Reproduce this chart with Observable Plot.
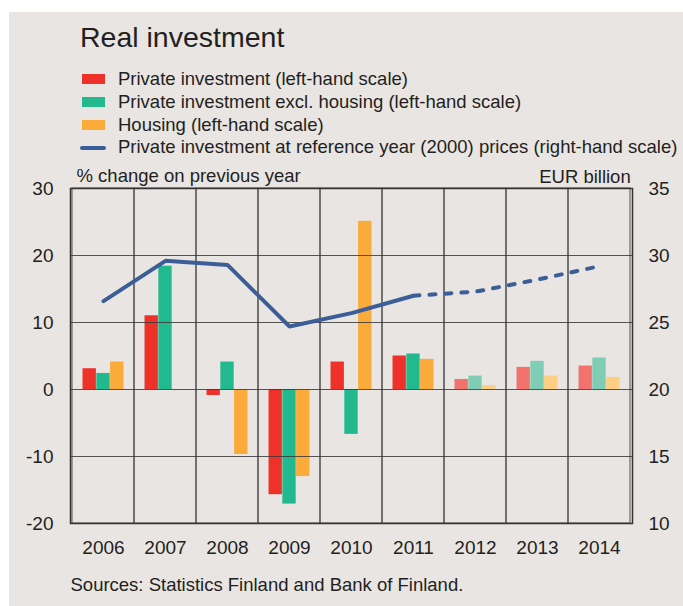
<!DOCTYPE html>
<html>
<head>
<meta charset="utf-8">
<script src="https://cdn.jsdelivr.net/npm/d3@7"></script>
<script src="https://cdn.jsdelivr.net/npm/@observablehq/plot@0.6"></script>
<style>
  html, body { margin: 0; padding: 0; background: #ffffff; width: 683px; height: 606px; overflow: hidden; }
  body { position: relative; font-family: "Liberation Sans", Arial, sans-serif; color: #231f20; }
  #panel { position: absolute; left: 9px; top: 12px; width: 674px; height: 594px; background: #e9e5e2; }
  .t { position: absolute; line-height: 1; white-space: nowrap; }
  .sw { position: absolute; }
  #chart { position: absolute; left: 0; top: 160px; }
</style>
</head>
<body>
<div id="panel"></div>
<div class="t" style="left:80px; top:22.6px; font-size:28.5px;">Real investment</div>
<div id="legend"></div>
<div class="t" style="left:76.5px; top:167px; font-size:18.5px;">% change on previous year</div>
<div class="t" style="right:52.3px; top:168.3px; font-size:18.5px;">EUR billion</div>
<div id="chart"></div>
<div class="t" style="left:70.5px; top:576px; font-size:18.5px;">Sources: Statistics Finland and Bank of Finland.</div>
<script>
// ---- data ----
const years = [2006, 2007, 2008, 2009, 2010, 2011, 2012, 2013, 2014];
const privateInvestment = [3.1, 11.0, -0.9, -15.7, 4.1, 5.0, 1.5, 3.3, 3.5];
const exclHousing = [2.4, 18.4, 4.1, -17.1, -6.7, 5.3, 2.0, 4.2, 4.7];
const housing = [4.1, 0.0, -9.7, -13.0, 25.1, 4.5, 0.6, 2.0, 1.8];
const levelEURbn = [26.6, 29.6, 29.3, 24.7, 25.7, 27.0, 27.3, 28.2, 29.2];
const firstForecastYear = 2012;
const leftTicks = [-20, -10, 0, 10, 20, 30];
const legendLabels = [
  "Private investment (left-hand scale)",
  "Private investment excl. housing (left-hand scale)",
  "Housing (left-hand scale)",
  "Private investment at reference year (2000) prices (right-hand scale)"
];

const colors = {
  red: ["#ee3229", "#f2736d"],
  green: ["#22b98f", "#7ecdb4"],
  orange: ["#fbab3a", "#fdcf82"],
  line: "#3b5e98"
};

// legend
const legend = document.getElementById("legend");
const rowCenters = [79, 102, 125, 147.5];
legendLabels.forEach((lab, i) => {
  const c = rowCenters[i];
  const sw = document.createElement("div");
  sw.className = "sw";
  if (i < 3) {
    const col = [colors.red[0], colors.green[0], colors.orange[0]][i];
    Object.assign(sw.style, {left: "82px", top: (c - 5) + "px", width: "23px", height: "10px", background: col});
  } else {
    Object.assign(sw.style, {left: "80px", top: (c - 2) + "px", width: "26px", height: "4px", background: colors.line, borderRadius: "2px"});
  }
  legend.appendChild(sw);
  const t = document.createElement("div");
  t.className = "t";
  t.textContent = lab;
  Object.assign(t.style, {left: "118px", top: (c - 9.06) + "px", fontSize: "18.5px"});
  legend.appendChild(t);
});

// table
const rows = years.map((y, i) => ({
  year: y,
  p: privateInvestment[i],
  e: exclHousing[i],
  h: housing[i],
  level: levelEURbn[i],
  forecast: y >= firstForecastYear
}));
const toLeft = v => (v - 20) * 2; // right-hand scale -> left-hand scale
const solid = rows.filter(d => d.year <= 2011);
const dashed = rows.filter(d => d.year >= 2011);

const step = 562 / years.length;
const barW = 13.8;
const pad = (step - 3 * barW) / 2;

const chart = Plot.plot({
  width: 683,
  height: 408,
  marginLeft: 70,
  marginRight: 51,
  marginTop: 28,
  marginBottom: 45,
  style: {background: "transparent", fontFamily: "'Liberation Sans', Arial, sans-serif", fontSize: "19px", color: "#231f20"},
  x: {type: "band", domain: years, paddingInner: 0, paddingOuter: 0},
  y: {domain: [-20, 30]},
  marks: [
    Plot.barY(rows, {x: "year", y: "p", fill: d => d.forecast ? colors.red[1] : colors.red[0], insetLeft: pad, insetRight: step - pad - barW}),
    Plot.barY(rows, {x: "year", y: "e", fill: d => d.forecast ? colors.green[1] : colors.green[0], insetLeft: pad + barW, insetRight: step - pad - 2 * barW}),
    Plot.barY(rows, {x: "year", y: "h", fill: d => d.forecast ? colors.orange[1] : colors.orange[0], insetLeft: pad + 2 * barW, insetRight: pad}),
    Plot.cell(years, {x: d => d, fill: "none", stroke: "#3a3a3a", strokeWidth: 1, strokeOpacity: 0.85}),
    Plot.ruleY([-10, 0, 10, 20], {stroke: "#3a3a3a", strokeWidth: 1, strokeOpacity: 0.85}),
    Plot.frame({stroke: "#333", strokeWidth: 1.5}),
    Plot.line(solid, {x: "year", y: d => toLeft(d.level), stroke: colors.line, strokeWidth: 4, strokeLinejoin: "miter", curve: "linear"}),
    Plot.line(dashed, {x: "year", y: d => toLeft(d.level), stroke: colors.line, strokeWidth: 4, strokeLinecap: "round", strokeDasharray: "6,10"}),
    Plot.axisY({anchor: "left", ticks: leftTicks, tickSize: 0, tickPadding: 17, label: null, tickFormat: d => String(d)}),
    Plot.axisY({anchor: "right", ticks: leftTicks, tickSize: 0, tickPadding: 16, label: null, tickFormat: d => String(20 + d / 2)}),
    Plot.axisX({tickSize: 0, tickPadding: 16.5, label: null, tickFormat: d => String(d)})
  ]
});
document.getElementById("chart").appendChild(chart);
</script>
</body>
</html>
